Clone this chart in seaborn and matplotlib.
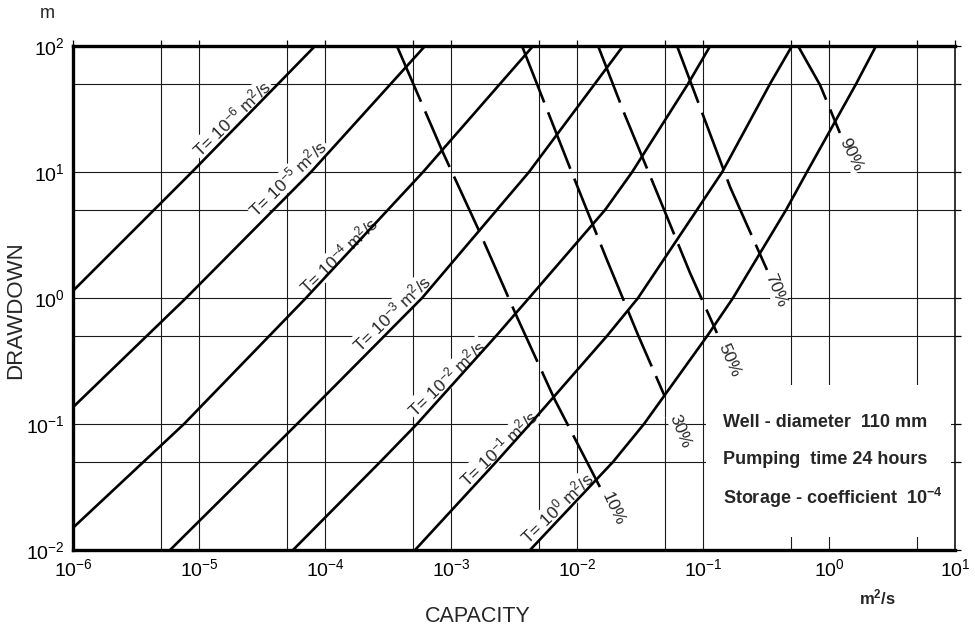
import pandas as pd
import seaborn as sns
import matplotlib
matplotlib.use('Agg')
import matplotlib.pyplot as plt
from matplotlib.patches import Rectangle
from matplotlib.ticker import LogLocator, NullFormatter

# Curves: capacity Q (m2/s) against drawdown s (m)
t_exponents = ['-6', '-5', '-4', '-3', '-2', '-1', '0']
t_capacity = [
    [1.0e-6, 8.79e-6, 8.34e-5],
    [1.0e-6, 7.89e-6, 7.74e-5, 6.22e-4],
    [1.0e-6, 7.60e-6, 7.06e-5, 6.00e-4, 4.48e-3],
    [5.89e-6, 6.00e-5, 5.89e-4, 4.16e-3, 2.32e-2],
    [5.57e-5, 2.74e-4, 5.37e-4, 2.28e-3, 4.16e-3, 1.67e-2, 2.74e-2,
     7.60e-2, 0.114],
    [5.18e-4, 2.28e-3, 4.24e-3, 1.73e-2, 3.05e-2, 8.95e-2, 0.142, 0.340,
     0.508],
    [4.24e-3, 1.93e-2, 3.40e-2, 0.108, 0.173, 0.456, 0.668, 1.64, 2.36],
]
t_drawdown = [
    [1.14, 10, 100],
    [0.136, 1, 10, 100],
    [0.015, 0.1, 1, 10, 100],
    [0.01, 0.1, 1, 10, 100],
    [0.01, 0.05, 0.1, 0.5, 1, 5, 10, 50, 100],
    [0.01, 0.05, 0.1, 0.5, 1, 5, 10, 50, 100],
    [0.01, 0.05, 0.1, 0.5, 1, 5, 10, 50, 100],
]

# Well efficiency (dashed) lines
eff_names = ['10%', '30%', '50%', '70%', '90%']
eff_capacity = [
    [3.72e-4, 8.65e-4, 1.70e-3, 3.34e-3, 6.68e-3, 1.52e-2],
    [3.66e-3, 9.12e-3, 1.73e-2, 3.05e-2, 4.99e-2],
    [1.47e-2, 2.40e-2, 4.56e-2, 7.89e-2, 0.129],
    [6.22e-2, 9.46e-2, 0.164, 0.322],
    [0.568, 0.849, 1.22],
]
eff_drawdown = [
    [100, 14.2, 3.28, 0.706, 0.155, 0.0316],
    [100, 9.82, 2.00, 0.508, 0.164],
    [100, 28.3, 6.0, 1.58, 0.527],
    [100, 32.8, 7.60, 1.67],
    [100, 49.0, 20.4],
]

notes = ['Well - diameter  110 mm', 'Pumping  time 24 hours',
         'Storage - coefficient  10$^{-4}$']

# label placement (layout only)
t_label_pos = [(1.83e-5, 26.8), (5.08e-5, 8.96), (1.29e-4, 2.19),
               (3.40e-4, 0.760), (9.29e-4, 0.232), (2.40e-3, 0.0645),
               (6.94e-3, 0.0216)]
eff_label_pos = [(1.93e-2, 0.0211, -65), (6.56e-2, 0.0879, -68),
                 (0.161, 0.322, -67), (0.379, 1.14, -68), (1.50, 13.6, -64)]

rows = []
for name, qs, ss in zip(t_exponents, t_capacity, t_drawdown):
    rows += [(name, q, s) for q, s in zip(qs, ss)]
df_t = pd.DataFrame(rows, columns=['curve', 'Q', 's'])
rows = []
for name, qs, ss in zip(eff_names, eff_capacity, eff_drawdown):
    rows += [(name, q, s) for q, s in zip(qs, ss)]
df_eff = pd.DataFrame(rows, columns=['curve', 'Q', 's'])

sns.set_theme(style='white')
plt.rcParams['font.family'] = ['Liberation Sans', 'DejaVu Sans']
plt.rcParams['mathtext.default'] = 'regular'
plt.rcParams['axes.unicode_minus'] = False

fig = plt.figure(figsize=(9.75, 6.3), dpi=100)
ax = fig.add_axes([0.0749, 0.127, 0.9046, 0.8])
ax.set(xscale='log', yscale='log')

sns.lineplot(data=df_t, x='Q', y='s', units='curve', estimator=None,
             sort=False, color='black', lw=1.9, ax=ax)
sns.lineplot(data=df_eff, x='Q', y='s', units='curve', estimator=None,
             sort=False, color='black', lw=1.9, linestyle=(0, (23, 4)),
             ax=ax)

ax.set_xlim(1e-6, 1e1)
ax.set_ylim(1e-2, 1e2)
for axis in (ax.xaxis, ax.yaxis):
    axis.set_major_locator(LogLocator(base=10, numticks=20))
    axis.set_minor_locator(LogLocator(base=10, subs=[5], numticks=20))
    axis.set_minor_formatter(NullFormatter())
ax.grid(True, which='both', color='#1a1a1a', lw=0.8)
ax.tick_params(which='both', direction='out', length=4, width=0.9,
               top=True, right=True, colors='black', labelsize=14, pad=2)
ax.set_xlabel('')
ax.set_ylabel('')
for side, lw in [('top', 2.4), ('left', 2.4), ('bottom', 2.4), ('right', 1.1)]:
    ax.spines[side].set_linewidth(lw)
    ax.spines[side].set_color('black')

# white panel for the notes
ax.add_patch(Rectangle((0.106, 0.0127), 9.29 - 0.106, 0.204 - 0.0127,
                       facecolor='white', edgecolor='none', zorder=1))

for exp, (x, y) in zip(t_exponents, t_label_pos):
    ax.text(x, y, f'T= 10$^{{{exp}}}$ m$^2$/s', rotation=44, fontsize=12.5,
            ha='center', va='center', rotation_mode='anchor', zorder=1.6,
            bbox=dict(facecolor='white', edgecolor='none', pad=0.5))
for name, (x, y, rot) in zip(eff_names, eff_label_pos):
    ax.text(x, y, name, rotation=rot, fontsize=12.5, ha='center',
            va='center', rotation_mode='anchor', zorder=1.6,
            bbox=dict(facecolor='white', edgecolor='none', pad=0.5))

for note, y in zip(notes, [0.252, 0.179, 0.103]):
    ax.text(0.737, y, note, transform=ax.transAxes, fontsize=13,
            fontweight='bold', ha='left', va='center', zorder=3)

fig.text(0.048, 0.979, 'm', fontsize=13, ha='center', va='center')
fig.text(0.8995, 0.051, 'm$^2$/s', fontsize=12, fontweight='bold',
         ha='center', va='center')
fig.text(0.490, 0.021, 'CAPACITY', fontsize=15.5, ha='center', va='center')
fig.text(0.0164, 0.508, 'DRAWDOWN', fontsize=16, rotation=90,
         ha='center', va='center')

fig.savefig('out.png', dpi=100)
